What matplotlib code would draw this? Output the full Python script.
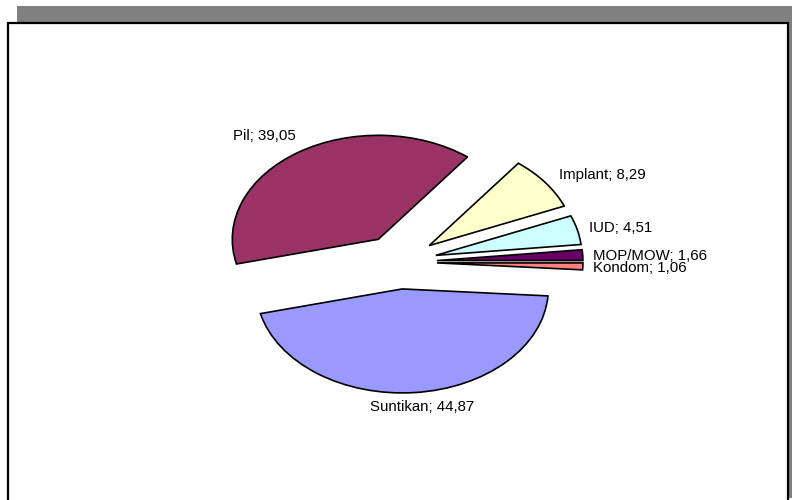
import matplotlib.pyplot as plt
import numpy as np
from matplotlib.patches import Rectangle
from matplotlib.transforms import offset_copy

# data (counter-clockwise from 3 o'clock)
names = ['MOP/MOW', 'IUD', 'Implant', 'Pil', 'Suntikan', 'Kondom']
values = [1.66, 4.51, 8.29, 39.05, 44.87, 1.06]
colors = ['#660066', '#CCFFFF', '#FFFFCC', '#993366', '#9999FF', '#FF8080']

labels = [f'{n}; {v:.2f}'.replace('.', ',') for n, v in zip(names, values)]

# label placement: distance from centre, alignment, pixel nudge
label_dist = [1.29, 1.34, 1.38, 1.45, 1.40, 1.29]
label_ha = ['left', 'left', 'left', 'right', 'center', 'left']
label_nudge = [(6, -1), (0, 0), (0, 0), (12, 0), (6, 0), (6, -2)]

plt.rcParams['font.family'] = ['Liberation Sans', 'DejaVu Sans']

fig = plt.figure(figsize=(7.92, 5), dpi=100)

# background frame with shadow
bg = fig.add_axes([0, 0, 1, 1])
bg.set_xlim(0, 792)
bg.set_ylim(500, 0)
bg.axis('off')
bg.add_patch(Rectangle((17, 6), 800, 492, facecolor='#808080', lw=0))
bg.add_patch(Rectangle((7.5, 22.5), 780.5, 500, facecolor='white',
                       edgecolor='black', lw=1.6))

# pie (squashed into an ellipse)
cx, cy, rx, ry = 399, 262, 146, 104
ax = fig.add_axes([0, 0, 1, 1])
ax.patch.set_alpha(0)
wedges, texts = ax.pie(values, labels=labels, colors=colors,
                       explode=[0.26] * len(values), startangle=0,
                       counterclock=True,
                       wedgeprops=dict(edgecolor='black', linewidth=1.2),
                       textprops=dict(fontsize=10.8, color='black'))

ax.set_aspect('auto')
ax.set_xlim(-cx / rx, (792 - cx) / rx)
ax.set_ylim(-(500 - cy) / ry, cy / ry)
ax.axis('off')

for w, t, d, ha, (dx, dy) in zip(wedges, texts, label_dist, label_ha, label_nudge):
    ang = np.deg2rad((w.theta1 + w.theta2) / 2)
    t.set_position((d * np.cos(ang), d * np.sin(ang)))
    t.set_transform(offset_copy(ax.transData, fig=fig, x=dx, y=dy, units='dots'))
    t.set_ha(ha)
    t.set_va('center')

fig.savefig('out.png', dpi=100)
